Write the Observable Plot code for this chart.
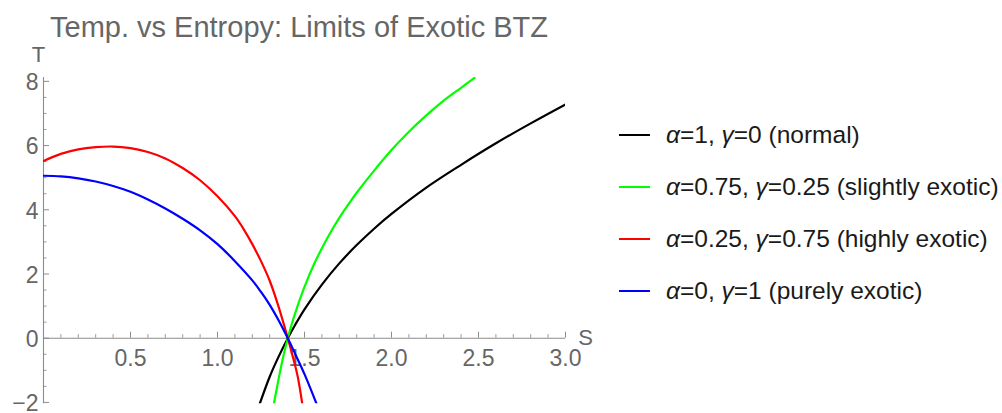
<!DOCTYPE html>
<html><head><meta charset="utf-8">
<script src="https://cdn.jsdelivr.net/npm/d3@7"></script>
<script src="https://cdn.jsdelivr.net/npm/@observablehq/plot@0.6"></script>
<style>
body{margin:0;background:#fff;font-family:"Liberation Sans",Arial,sans-serif;}
#wrap{position:relative;width:1002px;height:413px;overflow:hidden;background:#fff;}
#chart{position:absolute;left:0;top:0;}
#title{position:absolute;left:50px;top:13px;font-size:29px;line-height:29px;color:#666;white-space:nowrap;}
.row{position:absolute;left:619px;height:24px;}
.row .sw{position:absolute;left:0;top:11px;width:31px;height:2.2px;}
.row .lb{position:absolute;left:47px;top:0;font-size:24.5px;line-height:24px;color:#1a1a1a;white-space:nowrap;}
</style></head><body>
<div id="wrap"><div id="chart"></div><div id="title">Temp. vs Entropy: Limits of Exotic BTZ</div><div id="legend"></div></div>
<script>
// Series
const seriesKeys = ["normal", "slightly", "highly", "purely"];
const seriesColors = ["#000000", "#00ff00", "#ff0000", "#0000ff"];
const alphaVals = ["1", "0.75", "0.25", "0"];
const gammaVals = ["0", "0.25", "0.75", "1"];
const seriesDesc = ["normal", "slightly exotic", "highly exotic", "purely exotic"];

// alpha=1, gamma=0 (normal)
const normalS = [1.243, 1.3, 1.35, 1.404, 1.45, 1.5, 1.6, 1.7, 1.8, 1.9, 2.0, 2.2, 2.4, 2.6, 2.8, 3.0];
const normalT = [-2.04, -1.2, -0.59, 0, 0.45, 0.9, 1.67, 2.33, 2.9, 3.41, 3.87, 4.69, 5.4, 6.07, 6.69, 7.28];
// alpha=0.75, gamma=0.25 (slightly exotic)
const slightS = [1.324, 1.34, 1.36, 1.38, 1.404, 1.43, 1.46, 1.5, 1.55, 1.6, 1.65, 1.7, 1.75, 1.8, 1.9, 2.0, 2.1, 2.2, 2.3, 2.4, 2.477];
const slightT = [-2.04, -1.58, -1.03, -0.52, 0, 0.5, 1.0, 1.6, 2.25, 2.8, 3.3, 3.75, 4.15, 4.53, 5.22, 5.86, 6.43, 6.94, 7.4, 7.8, 8.11];
// alpha=0.25, gamma=0.75 (highly exotic)
const highS = [0, 0.1, 0.2, 0.3, 0.4, 0.5, 0.6, 0.7, 0.8, 0.9, 1.0, 1.1, 1.15, 1.2, 1.25, 1.3, 1.35, 1.404, 1.43, 1.46, 1.487];
const highT = [5.52, 5.74, 5.88, 5.95, 5.97, 5.92, 5.8, 5.6, 5.3, 4.92, 4.42, 3.8, 3.4, 2.93, 2.4, 1.79, 1.0, 0, -0.52, -1.17, -2.04];
// alpha=0, gamma=1 (purely exotic)
const pureS = [0, 0.1, 0.2, 0.3, 0.4, 0.5, 0.6, 0.7, 0.8, 0.9, 1.0, 1.1, 1.2, 1.25, 1.3, 1.35, 1.404, 1.45, 1.5, 1.569];
const pureT = [5.06, 5.04, 4.98, 4.88, 4.74, 4.56, 4.32, 4.04, 3.72, 3.36, 2.93, 2.4, 1.8, 1.44, 1.04, 0.57, 0, -0.53, -1.12, -2.04];

// Axes
const xMajor = [0.5, 1.0, 1.5, 2.0, 2.5, 3.0];
const xMajorLabels = ["0.5", "1.0", "1.5", "2.0", "2.5", "3.0"];
const xMinor = [0.1,0.2,0.3,0.4,0.6,0.7,0.8,0.9,1.1,1.2,1.3,1.4,1.6,1.7,1.8,1.9,2.1,2.2,2.3,2.4,2.6,2.7,2.8,2.9];
const yMajor = [-2, 0, 2, 4, 6, 8];
const yMajorLabels = ["\u22122", "0", "2", "4", "6", "8"];
const yMinor = [-1.5, -1, -0.5, 0.5, 1, 1.5, 2.5, 3, 3.5, 4.5, 5, 5.5, 6.5, 7, 7.5];
const xDomain = [0, 3];
const yDomain = [-2.04, 8.12];

const sArr = [normalS, slightS, highS, pureS];
const tArr = [normalT, slightT, highT, pureT];
const rows = [];
seriesKeys.forEach((k, i) => sArr[i].forEach((s, j) => rows.push({series: k, S: s, T: tArr[i][j]})));

const axisColor = "#8c8c8c";
const labelColor = "#666666";
const majX = 0.187, minX = 0.11;   // tick lengths (data units of T)
const majY = 0.0345, minY = 0.02;  // tick lengths (data units of S)

const chart = Plot.plot({
  width: 600, height: 413,
  marginLeft: 43, marginRight: 35, marginTop: 77, marginBottom: 9.8,
  x: {domain: xDomain, axis: null},
  y: {domain: yDomain, axis: null},
  color: {domain: seriesKeys, range: seriesColors},
  style: {fontFamily: "'Liberation Sans', Arial, sans-serif", background: "white", overflow: "visible"},
  marks: [
    Plot.ruleY([0], {x1: xDomain[0], x2: xDomain[1], stroke: axisColor, strokeWidth: 1.1}),
    Plot.ruleX([0], {y1: yDomain[0], y2: yDomain[1], stroke: axisColor, strokeWidth: 1.1}),
    Plot.ruleX(xMajor, {x: d => d, y1: 0, y2: majX, stroke: axisColor, strokeWidth: 1}),
    Plot.ruleX(xMinor, {x: d => d, y1: 0, y2: minX, stroke: axisColor, strokeWidth: 0.9}),
    Plot.ruleY(yMajor, {y: d => d, x1: 0, x2: majY, stroke: axisColor, strokeWidth: 1}),
    Plot.ruleY(yMinor, {y: d => d, x1: 0, x2: minY, stroke: axisColor, strokeWidth: 0.9}),
    Plot.text(xMajor, {x: d => d, y: 0, dy: 20, text: (d, i) => xMajorLabels[i], fill: labelColor, fontSize: 23}),
    Plot.text(yMajor, {x: 0, y: d => d, dx: -5, dy: 1.5, textAnchor: "end", text: (d, i) => yMajorLabels[i], fill: labelColor, fontSize: 23}),
    Plot.text(["S"], {x: xDomain[1], y: 0, dx: 20, dy: 0, text: d => d, fill: labelColor, fontSize: 22}),
    Plot.text(["T"], {x: 0, y: yDomain[1], dx: -5, dy: -23, text: d => d, fill: labelColor, fontSize: 22}),
    Plot.line(rows, {x: "S", y: "T", z: "series", stroke: "series", strokeWidth: 2.2, curve: "catmull-rom", clip: true})
  ]
});
document.getElementById("chart").appendChild(chart);

// Legend
const legendY = [135, 187.3, 239, 291];
const leg = document.getElementById("legend");
seriesKeys.forEach((k, i) => {
  const r = document.createElement("div");
  r.className = "row";
  r.style.top = (legendY[i] - 12) + "px";
  const sw = document.createElement("div");
  sw.className = "sw"; sw.style.background = seriesColors[i];
  const lb = document.createElement("div");
  lb.className = "lb";
  lb.innerHTML = `<i>\u03b1</i>=${alphaVals[i]}, <i>\u03b3</i>=${gammaVals[i]} (${seriesDesc[i]})`;
  r.appendChild(sw); r.appendChild(lb);
  leg.appendChild(r);
});
</script>
</body></html>
